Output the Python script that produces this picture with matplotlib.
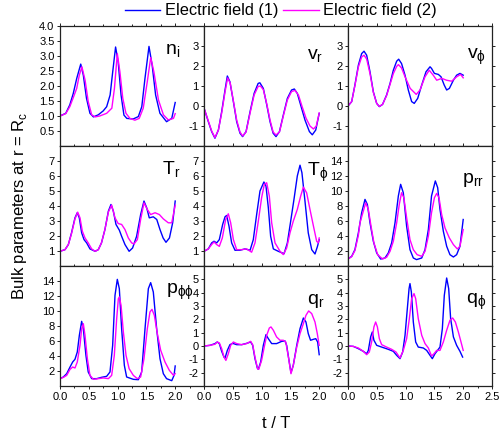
import matplotlib
matplotlib.use('Agg')
import matplotlib.pyplot as plt
from matplotlib.ticker import MultipleLocator

plt.rcParams['font.family'] = ['Liberation Sans Narrow', 'Liberation Sans', 'DejaVu Sans']

# ---------------- data (t / T, value) ----------------
# n_i
ni_t1 = [0.00, 0.10, 0.17, 0.23, 0.29, 0.36, 0.405, 0.46, 0.52, 0.58, 0.665, 0.75, 0.81, 0.87, 0.915, 0.965,
         1.01, 1.06, 1.11, 1.16, 1.27, 1.36, 1.42, 1.475, 1.545, 1.60, 1.66, 1.735, 1.85, 1.94, 2.00]
ni_1 = [1.00, 1.09, 1.37, 1.75, 2.25, 2.73, 2.36, 1.59, 1.09, 0.97, 1.04, 1.17, 1.31, 1.70, 2.47, 3.30,
        2.80, 1.70, 1.03, 0.92, 0.90, 0.98, 1.31, 2.25, 3.32, 2.69, 1.70, 1.09, 0.81, 0.92, 1.45]
ni_t2 = [0.00, 0.10, 0.17, 0.23, 0.29, 0.335, 0.38, 0.435, 0.49, 0.55, 0.61, 0.69, 0.81, 0.90, 0.945, 0.995,
         1.04, 1.09, 1.145, 1.215, 1.30, 1.375, 1.445, 1.515, 1.575, 1.63, 1.71, 1.795, 1.88, 1.97, 2.00]
ni_2 = [1.00, 1.08, 1.31, 1.61, 1.92, 2.36, 2.64, 2.20, 1.48, 1.04, 0.97, 1.00, 1.09, 1.26, 1.92, 3.08,
        2.47, 1.59, 1.09, 0.92, 0.86, 0.92, 1.26, 2.14, 2.95, 2.47, 1.53, 1.04, 0.87, 0.92, 1.08]

# v_r
vr_t1 = [0.00, 0.075, 0.133, 0.19, 0.25, 0.307, 0.365, 0.405, 0.45, 0.51, 0.567, 0.625, 0.67, 0.73, 0.80, 0.87,
         0.94, 0.97, 1.03, 1.09, 1.146, 1.20, 1.25, 1.31, 1.377, 1.447, 1.52, 1.568, 1.62, 1.678, 1.753, 1.83,
         1.88, 1.94, 2.00]
vr_1 = [-0.10, -0.78, -1.28, -1.61, -1.20, -0.28, 0.80, 1.50, 1.21, 0.22, -0.78, -1.36, -1.53, -1.28, -0.28, 0.63,
        1.13, 1.16, 0.88, 0.05, -0.78, -1.36, -1.53, -1.28, -0.45, 0.38, 0.80, 0.85, 0.63, 0.05, -0.70, -1.28,
        -1.44, -1.20, -0.37]
vr_t2 = [0.00, 0.075, 0.133, 0.19, 0.25, 0.307, 0.365, 0.41, 0.455, 0.51, 0.567, 0.625, 0.67, 0.73, 0.80, 0.87,
         0.94, 0.98, 1.03, 1.09, 1.146, 1.20, 1.25, 1.31, 1.377, 1.447, 1.52, 1.58, 1.64, 1.70, 1.77, 1.84,
         1.90, 1.95, 2.00]
vr_2 = [-0.10, -0.75, -1.25, -1.58, -1.20, -0.35, 0.70, 1.40, 1.15, 0.25, -0.70, -1.30, -1.50, -1.30, -0.35, 0.55,
        0.98, 1.00, 0.82, 0.10, -0.70, -1.30, -1.45, -1.30, -0.50, 0.30, 0.72, 0.78, 0.55, 0.00, -0.60, -1.00,
        -1.15, -1.00, -0.35]

# v_phi
vp_t1 = [0.00, 0.064, 0.12, 0.18, 0.237, 0.278, 0.324, 0.382, 0.44, 0.498, 0.544, 0.60, 0.67, 0.73, 0.787, 0.845,
         0.88, 0.93, 0.99, 1.047, 1.105, 1.15, 1.21, 1.28, 1.354, 1.424, 1.45, 1.50, 1.568, 1.615, 1.67, 1.713,
         1.76, 1.83, 1.886, 1.944, 2.00]
vp_1 = [0.00, 0.22, 1.05, 2.04, 2.62, 2.74, 2.54, 1.71, 0.71, 0.13, -0.03, 0.08, 0.55, 1.13, 1.79, 2.24,
        2.34, 2.12, 1.54, 0.80, 0.22, 0.13, 0.38, 1.05, 1.71, 1.96, 1.88, 1.63, 1.58, 1.46, 1.05, 0.80,
        0.88, 1.29, 1.54, 1.63, 1.54]
vp_t2 = [0.00, 0.064, 0.12, 0.18, 0.237, 0.278, 0.324, 0.382, 0.44, 0.498, 0.544, 0.60, 0.67, 0.73, 0.787, 0.845,
         0.875, 0.93, 0.99, 1.08, 1.185, 1.25, 1.337, 1.41, 1.48, 1.54, 1.63, 1.71, 1.80, 1.886, 1.955, 2.00]
vp_2 = [0.00, 0.22, 1.02, 1.95, 2.45, 2.54, 2.35, 1.62, 0.68, 0.13, -0.02, 0.08, 0.52, 1.08, 1.62, 1.98,
        2.07, 1.90, 1.46, 0.88, 0.58, 0.80, 1.46, 1.79, 1.54, 1.29, 1.38, 1.29, 1.24, 1.46, 1.58, 1.41]

# T_r
tr_t1 = [0.00, 0.087, 0.145, 0.20, 0.26, 0.30, 0.335, 0.376, 0.417, 0.463, 0.52, 0.61, 0.665, 0.72, 0.78, 0.84,
         0.885, 0.926, 0.972, 1.03, 1.07, 1.128, 1.20, 1.26, 1.33, 1.40, 1.458, 1.505, 1.55, 1.62, 1.68, 1.736,
         1.79, 1.84, 1.90, 1.956, 2.00]
tr_1 = [0.98, 1.09, 1.43, 2.21, 3.21, 3.55, 3.21, 2.21, 1.76, 1.54, 1.14, 0.98, 1.09, 1.54, 2.43, 3.66,
        4.10, 3.66, 2.77, 2.39, 1.98, 1.43, 0.98, 1.20, 1.98, 3.43, 4.33, 3.88, 3.21, 3.28, 3.10, 2.43,
        1.87, 1.58, 1.87, 2.88, 4.33]
tr_t2 = [0.00, 0.087, 0.145, 0.20, 0.26, 0.307, 0.347, 0.388, 0.434, 0.49, 0.55, 0.61, 0.665, 0.72, 0.78, 0.84,
         0.897, 0.955, 1.01, 1.07, 1.128, 1.186, 1.244, 1.285, 1.343, 1.40, 1.458, 1.516, 1.574, 1.65, 1.725, 1.794,
         1.88, 1.94, 2.00]
tr_2 = [0.98, 1.09, 1.43, 2.16, 3.14, 3.59, 3.21, 2.32, 1.87, 1.54, 1.14, 0.98, 1.09, 1.54, 2.43, 3.60,
        4.06, 3.21, 2.83, 2.77, 2.43, 1.87, 1.54, 1.47, 1.76, 3.10, 4.21, 3.77, 3.43, 3.55, 3.43, 3.14,
        2.88, 2.88, 4.05]

# T_phi
tp_t1 = [0.00, 0.075, 0.133, 0.174, 0.22, 0.266, 0.324, 0.365, 0.393, 0.434, 0.48, 0.538, 0.625, 0.71, 0.80, 0.856,
         0.914, 0.972, 1.04, 1.076, 1.117, 1.157, 1.204, 1.29, 1.39, 1.447, 1.505, 1.562, 1.62, 1.667, 1.70, 1.753,
         1.81, 1.87, 1.927, 1.97, 2.00]
tp_1 = [0.98, 1.14, 1.54, 1.65, 1.54, 1.76, 2.77, 3.28, 3.37, 2.66, 1.54, 1.05, 1.05, 1.14, 1.05, 1.76,
        3.43, 5.00, 5.60, 5.33, 3.88, 1.98, 1.14, 0.98, 0.82, 1.54, 2.99, 4.44, 6.00, 6.72, 6.22, 4.33,
        2.21, 1.09, 0.80, 1.31, 1.76]
tp_t2 = [0.00, 0.075, 0.133, 0.174, 0.22, 0.266, 0.318, 0.376, 0.422, 0.463, 0.51, 0.567, 0.654, 0.74, 0.827, 0.885,
         0.943, 1.00, 1.047, 1.088, 1.134, 1.175, 1.233, 1.32, 1.377, 1.435, 1.493, 1.55, 1.62, 1.678, 1.725, 1.782,
         1.84, 1.90, 1.956, 1.985, 2.00]
tp_2 = [0.98, 1.14, 1.43, 1.60, 1.43, 1.31, 1.87, 3.10, 3.48, 2.88, 1.76, 1.09, 1.09, 1.14, 0.92, 1.54,
        2.99, 4.55, 5.44, 5.55, 4.66, 2.88, 1.54, 0.98, 0.76, 1.20, 2.21, 2.99, 3.77, 4.66, 5.26, 4.88,
        3.77, 2.66, 1.65, 1.54, 1.87]

# p_rr
pr_t1 = [0.00, 0.064, 0.12, 0.18, 0.237, 0.295, 0.336, 0.382, 0.44, 0.498, 0.567, 0.642, 0.70, 0.758, 0.816, 0.874,
         0.914, 0.96, 1.018, 1.076, 1.134, 1.19, 1.28, 1.337, 1.395, 1.45, 1.516, 1.557, 1.597, 1.655, 1.713, 1.77,
         1.83, 1.886, 1.944, 2.00]
pr_1 = [0.93, 1.29, 2.18, 4.42, 7.10, 8.88, 8.21, 5.75, 3.30, 1.74, 0.93, 1.07, 1.74, 3.08, 5.75, 9.33,
        10.89, 9.77, 5.30, 2.18, 1.07, 0.85, 1.07, 2.18, 4.86, 9.33, 11.34, 10.44, 7.54, 4.64, 2.63, 1.51,
        1.20, 1.51, 2.63, 6.20]
pr_t2 = [0.00, 0.064, 0.12, 0.18, 0.208, 0.307, 0.353, 0.40, 0.45, 0.515, 0.60, 0.67, 0.73, 0.787, 0.845, 0.89,
         0.93, 0.97, 1.018, 1.076, 1.134, 1.20, 1.28, 1.337, 1.395, 1.45, 1.50, 1.54, 1.58, 1.626, 1.684, 1.76,
         1.83, 1.898, 1.944, 2.00]
pr_2 = [0.93, 1.25, 2.05, 4.10, 5.75, 8.43, 7.54, 5.30, 3.08, 1.51, 0.93, 1.16, 1.96, 3.30, 5.75, 8.21,
        9.77, 9.10, 6.42, 3.52, 2.18, 1.51, 1.29, 1.96, 3.97, 7.10, 9.10, 9.68, 9.10, 6.87, 5.08, 3.74,
        2.85, 2.27, 2.63, 4.86]

# p_phiphi
pp_t1 = [0.00, 0.058, 0.116, 0.174, 0.22, 0.26, 0.30, 0.336, 0.376, 0.405, 0.45, 0.49, 0.55, 0.637, 0.723, 0.81,
         0.868, 0.914, 0.955, 0.995, 1.03, 1.07, 1.117, 1.157, 1.273, 1.36, 1.418, 1.476, 1.534, 1.574, 1.62, 1.678,
         1.736, 1.794, 1.85, 1.94, 1.98, 2.00]
pp_1 = [0.98, 1.20, 1.64, 2.53, 3.20, 3.56, 4.53, 6.76, 8.62, 7.64, 4.09, 1.87, 0.98, 0.98, 1.16, 1.29,
        1.87, 5.42, 12.09, 14.22, 12.98, 7.64, 2.76, 1.20, 0.89, 0.84, 1.87, 7.64, 12.98, 13.78, 12.53, 7.64,
        3.64, 1.64, 0.98, 0.71, 1.42, 2.67]
pp_t2 = [0.00, 0.058, 0.116, 0.174, 0.22, 0.26, 0.30, 0.347, 0.376, 0.405, 0.434, 0.475, 0.52, 0.58, 0.665, 0.752,
         0.84, 0.897, 0.943, 0.984, 1.013, 1.03, 1.06, 1.10, 1.146, 1.20, 1.273, 1.343, 1.40, 1.458, 1.516, 1.562,
         1.597, 1.638, 1.69, 1.748, 1.823, 1.898, 1.97, 2.00]
pp_2 = [0.98, 1.15, 1.42, 2.22, 2.53, 2.40, 3.20, 5.42, 7.64, 8.31, 6.76, 3.64, 1.42, 0.89, 0.98, 1.07,
        0.98, 1.42, 4.09, 8.98, 11.64, 11.87, 10.76, 7.20, 4.09, 2.31, 1.42, 0.98, 1.20, 3.64, 7.64, 9.87,
        10.22, 9.42, 6.98, 4.76, 3.20, 2.09, 1.42, 1.64]

# q_r
qr_t1 = [0.00, 0.104, 0.19, 0.23, 0.266, 0.307, 0.347, 0.365, 0.405, 0.45, 0.498, 0.567, 0.654, 0.74, 0.81, 0.845,
         0.885, 0.926, 0.943, 0.984, 1.03, 1.076, 1.117, 1.175, 1.26, 1.35, 1.406, 1.435, 1.48, 1.51, 1.55, 1.61,
         1.667, 1.725, 1.77, 1.81, 1.85, 1.898, 1.94, 1.973, 2.00]
qr_1 = [0.00, 0.05, 0.18, 0.30, 0.18, -0.40, -0.83, -0.90, -0.33, 0.10, 0.20, 0.10, 0.10, 0.20, 0.30, 0.05,
        -0.95, -1.65, -1.75, -1.20, 0.05, 0.85, 0.55, 0.18, 0.18, 0.35, 0.38, 0.05, -1.20, -2.00, -1.45, 0.05,
        1.30, 2.10, 1.80, 0.93, 0.43, 0.50, 0.55, 0.30, -0.65]
qr_t2 = [0.00, 0.104, 0.19, 0.23, 0.266, 0.307, 0.347, 0.38, 0.422, 0.463, 0.51, 0.567, 0.654, 0.74, 0.81, 0.845,
         0.885, 0.93, 0.95, 1.00, 1.04, 1.088, 1.134, 1.163, 1.204, 1.26, 1.32, 1.377, 1.42, 1.47, 1.51, 1.55,
         1.61, 1.667, 1.725, 1.77, 1.817, 1.87, 1.927, 1.967, 2.00]
qr_2 = [0.00, 0.05, 0.13, 0.30, 0.23, -0.20, -0.83, -1.08, -0.58, 0.05, 0.30, 0.18, 0.10, 0.18, 0.35, 0.10,
        -0.83, -1.70, -1.75, -1.08, -0.20, 0.80, 1.35, 1.43, 1.18, 0.68, 0.43, 0.43, 0.30, -0.95, -2.08, -1.45,
        -0.08, 0.93, 1.68, 2.30, 2.63, 2.43, 1.80, 0.93, 0.05]

# q_phi
qp_t1 = [0.00, 0.093, 0.18, 0.266, 0.324, 0.353, 0.393, 0.422, 0.45, 0.498, 0.584, 0.70, 0.787, 0.845, 0.903, 0.949,
         0.99, 1.03, 1.06, 1.076, 1.10, 1.134, 1.175, 1.22, 1.308, 1.366, 1.424, 1.464, 1.51, 1.568, 1.597, 1.638,
         1.672, 1.713, 1.748, 1.782, 1.83, 1.886, 1.944, 1.99]
qp_1 = [0.00, -0.03, -0.20, -0.40, -0.58, -0.33, 0.68, 1.05, 0.43, 0.05, -0.08, -0.25, -0.40, -0.70, -0.95, -0.45,
        0.80, 2.80, 4.30, 4.68, 4.05, 1.80, 0.30, -0.08, -0.15, -0.33, -0.70, -0.95, -0.58, -0.25, -0.08, 1.30,
        3.80, 5.10, 4.30, 2.05, 0.68, 0.05, -0.40, -0.83]
qp_t2 = [0.00, 0.093, 0.18, 0.266, 0.324, 0.37, 0.41, 0.45, 0.48, 0.51, 0.544, 0.584, 0.67, 0.758, 0.833, 0.903,
         0.96, 1.018, 1.065, 1.105, 1.146, 1.175, 1.22, 1.28, 1.337, 1.395, 1.45, 1.493, 1.54, 1.597, 1.655, 1.713,
         1.77, 1.817, 1.864, 1.916, 1.962, 2.00]
qp_2 = [0.00, -0.03, -0.15, -0.40, -0.65, -0.45, 0.30, 1.43, 1.80, 1.43, 0.55, 0.10, -0.08, -0.25, -0.45, -0.90,
        -0.33, 0.55, 2.05, 3.55, 3.93, 3.55, 2.05, 0.80, 0.18, -0.15, -0.75, -0.58, -0.33, -0.33, 0.30, 1.18,
        1.93, 2.10, 1.80, 1.05, 0.30, -0.33]

legend_labels = ['Electric field (1)', 'Electric field (2)']
colors = ['#0000FF', '#FF00FF']

x_ticks = [0.0, 0.5, 1.0, 1.5, 2.0, 2.5]

# (series1 t, series1, series2 t, series2, ylim, yticks, ytick format, label, label position (x, y))
panels = [
    (ni_t1, ni_1, ni_t2, ni_2, (0, 4), [0.5, 1.0, 1.5, 2.0, 2.5, 3.0, 3.5, 4.0], '{:.1f}', r'$\mathregular{n_i}$', (0.73, 0.77)),
    (vr_t1, vr_1, vr_t2, vr_2, (-2, 4), [-1, 0, 1, 2, 3], '{:d}', r'$\mathregular{v_r}$', (0.715, 0.725)),
    (vp_t1, vp_1, vp_t2, vp_2, (-2, 4), [-1, 0, 1, 2, 3], '{:d}', r'$\mathregular{v_\phi}$', (0.826, 0.725)),
    (tr_t1, tr_1, tr_t2, tr_2, (0, 8), [1, 2, 3, 4, 5, 6, 7], '{:d}', r'$\mathregular{T_r}$', (0.706, 0.765)),
    (tp_t1, tp_1, tp_t2, tp_2, (0, 8), [1, 2, 3, 4, 5, 6, 7], '{:d}', r'$\mathregular{T_\phi}$', (0.715, 0.75)),
    (pr_t1, pr_1, pr_t2, pr_2, (0, 16), [2, 4, 6, 8, 10, 12, 14], '{:d}', r'$\mathregular{p_{rr}}$', (0.79, 0.695)),
    (pp_t1, pp_1, pp_t2, pp_2, (0, 16), [2, 4, 6, 8, 10, 12, 14], '{:d}', r'$\mathregular{p_{\phi\phi}}$', (0.736, 0.77)),
    (qr_t1, qr_1, qr_t2, qr_2, (-3, 6), [-2, -1, 0, 1, 2, 3, 4, 5], '{:d}', r'$\mathregular{q_r}$', (0.713, 0.68)),
    (qp_t1, qp_1, qp_t2, qp_2, (-3, 6), [-2, -1, 0, 1, 2, 3, 4, 5], '{:d}', r'$\mathregular{q_\phi}$', (0.82, 0.685)),
]

fig = plt.figure(figsize=(5.01, 4.36), dpi=100)
gs = fig.add_gridspec(3, 3, left=60/501, right=492/501, top=1-26/436, bottom=1-386/436, wspace=0, hspace=0)

handles = []
for i, (t1, y1, t2, y2, ylim, yt, fmt, lab, pos) in enumerate(panels):
    r, c = divmod(i, 3)
    ax = fig.add_subplot(gs[r, c])
    l1, = ax.plot(t1, y1, color=colors[0], lw=1.0)
    l2, = ax.plot(t2, y2, color=colors[1], lw=1.0)
    if i == 0:
        handles = [l1, l2]
    ax.set_xlim(0, 2.5)
    ax.set_ylim(*ylim)
    ax.set_xticks(x_ticks)
    ax.xaxis.set_minor_locator(MultipleLocator(0.25))
    ax.set_yticks(yt)
    ax.set_yticklabels([fmt.format(v) for v in yt])
    if r == 2:
        xl = ['{:.1f}'.format(v) for v in x_ticks]
        if c < 2:
            xl[-1] = ''
        ax.set_xticklabels(xl)
    else:
        ax.set_xticklabels([])
    ax.tick_params(axis='both', which='both', direction='out', top=True, right=True,
                   labelsize=8, pad=1.5, width=0.7, color='#222222')
    ax.tick_params(axis='both', which='major', length=2.5)
    ax.tick_params(axis='both', which='minor', length=1.5)
    for s in ax.spines.values():
        s.set_linewidth(0.9)
        s.set_color('#222222')
    ax.text(pos[0], pos[1], lab, transform=ax.transAxes, fontsize=14,
            ha='left', va='baseline', family=['Liberation Sans', 'DejaVu Sans'])

fig.legend(handles, legend_labels, loc='center', bbox_to_anchor=(281/501, 1-11/436), ncol=2,
           frameon=False, handlelength=2.15, handletextpad=0.3, columnspacing=0.3, borderpad=0,
           prop={'family': ['Liberation Sans', 'DejaVu Sans'], 'size': 11.8})

fig.text(20/501, 1-206/436, r'Bulk parameters at r = R$_\mathregular{c}$', rotation=90,
         ha='center', va='center', fontsize=12, family=['Liberation Sans', 'DejaVu Sans'])
fig.text(276/501, 1-423/436, 't / T', ha='center', va='center', fontsize=12,
         family=['Liberation Sans', 'DejaVu Sans'])

fig.savefig('out.png', dpi=100)
